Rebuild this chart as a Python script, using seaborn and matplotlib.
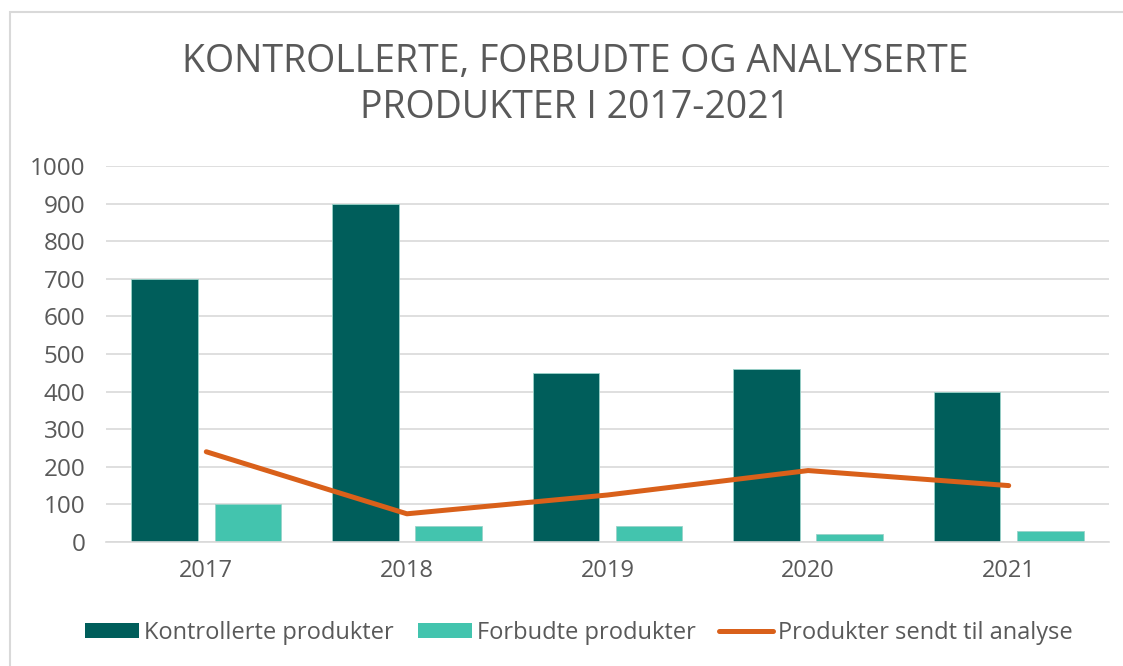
import pandas as pd
import matplotlib.pyplot as plt
import seaborn as sns
from matplotlib.lines import Line2D
from matplotlib.patches import Patch, Rectangle

years = ["2017", "2018", "2019", "2020", "2021"]
kontrollerte = [700, 900, 450, 460, 400]
forbudte = [102, 43, 43, 21, 29]
analyse = [240, 75, 125, 190, 150]

dark = "#005E5B"
light = "#43C4AE"
orange = "#D9601A"
grey = "#595959"

df = pd.DataFrame({
    "year": years * 2,
    "value": kontrollerte + forbudte,
    "serie": ["Kontrollerte produkter"] * 5 + ["Forbudte produkter"] * 5,
})

sns.set_style("white")
plt.rcParams["font.family"] = ["Open Sans", "DejaVu Sans"]

fig = plt.figure(figsize=(11.23, 6.66), dpi=100)
ax = fig.add_axes([106 / 1123, 1 - 542 / 666, 1003 / 1123, 376 / 666])

sns.barplot(data=df, x="year", y="value", hue="serie", order=years,
            palette=[dark, light], saturation=1, width=0.83, gap=0.2, ax=ax,
            edgecolor="#9ad3c9", linewidth=0.6, legend=False)
sns.lineplot(x=years, y=analyse, ax=ax, color=orange, linewidth=3.6,
             solid_capstyle="round", solid_joinstyle="round")

ax.set_ylim(0, 1000)
ax.set_xlim(-0.5, 4.5)
ax.set_yticks(range(0, 1001, 100))
ax.yaxis.grid(True, color="#D9D9D9", linewidth=1.2)
ax.set_axisbelow(True)
for s in ["top", "right", "left"]:
    ax.spines[s].set_visible(False)
ax.spines["bottom"].set_color("#D9D9D9")
ax.spines["bottom"].set_linewidth(1.2)
ax.tick_params(axis="y", length=0, labelsize=17.5, colors=grey, pad=15)
ax.tick_params(axis="x", length=0, labelsize=17, colors=grey, pad=12)
ax.set_xlabel("")
ax.set_ylabel("")

fig.text(575 / 1123, 1 - 85 / 666,
         "KONTROLLERTE, FORBUDTE OG ANALYSERTE\nPRODUKTER I 2017-2021",
         ha="center", va="center", fontsize=27, color=grey, linespacing=1.3)

handles = [
    Patch(facecolor=dark, edgecolor="none"),
    Patch(facecolor=light, edgecolor="none"),
    Line2D([0], [0], color=orange, linewidth=3.6, solid_capstyle="round"),
]
labels = ["Kontrollerte produkter", "Forbudte produkter", "Produkter sendt til analyse"]
fig.legend(handles, labels, loc="center", bbox_to_anchor=(579 / 1123, 1 - 633 / 666),
           ncol=3, frameon=False, fontsize=17, labelcolor=grey,
           handlelength=2.3, handleheight=0.6, handletextpad=0.2, columnspacing=1.0)

fig.add_artist(Rectangle((10 / 1123, -0.1), 1.2, 1 - 12 / 666 + 0.1,
                         transform=fig.transFigure, fill=False,
                         edgecolor="#D9D9D9", linewidth=1.5))

fig.savefig("out.png", dpi=100)
